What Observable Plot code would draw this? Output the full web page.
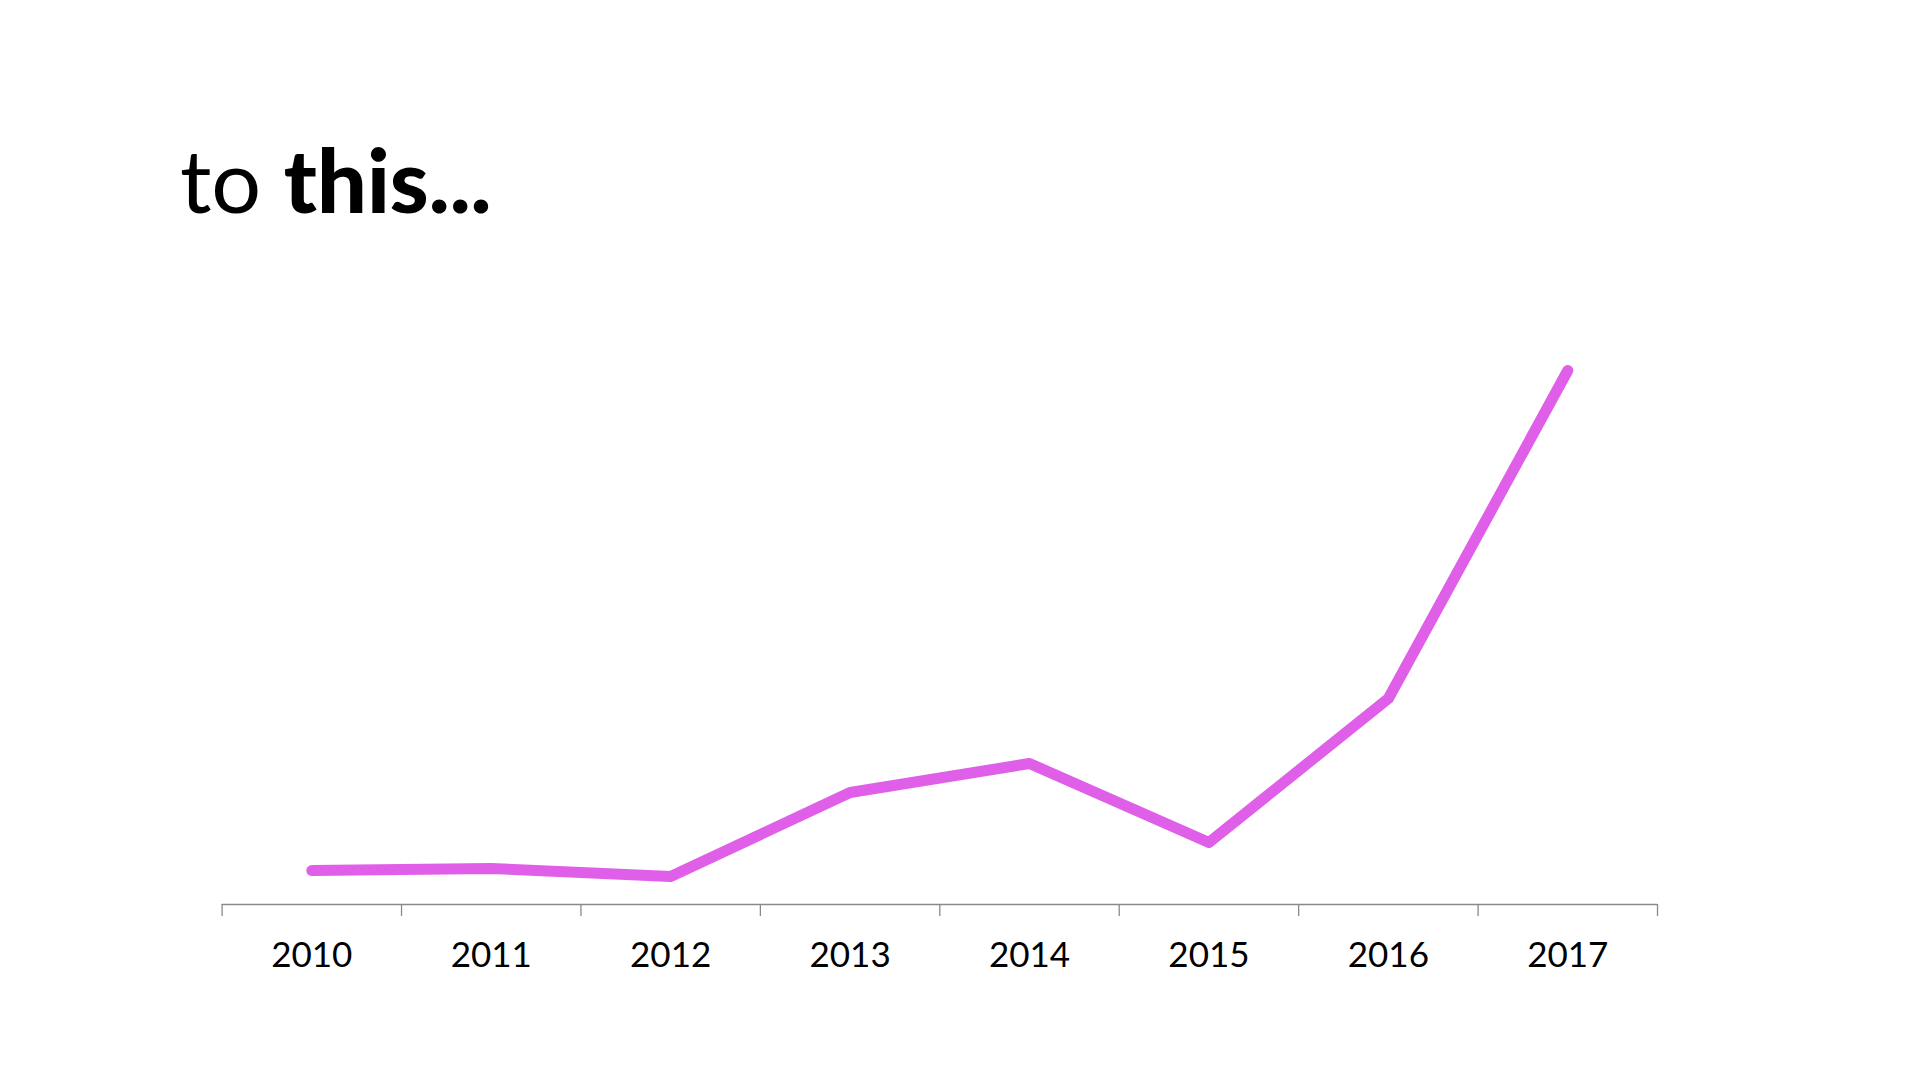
<!DOCTYPE html>
<html>
<head>
<meta charset="utf-8">
<script src="https://cdn.jsdelivr.net/npm/d3@7"></script>
<script src="https://cdn.jsdelivr.net/npm/@observablehq/plot@0.6"></script>
<style>
  html, body { margin: 0; padding: 0; background: #fff; }
  body { width: 1920px; height: 1080px; position: relative; overflow: hidden; font-family: Lato, "Open Sans", sans-serif; }
  #title { position: absolute; left: 180px; top: 135px; font-size: 88px; line-height: 1; color: #000; white-space: nowrap; letter-spacing: 0px; }
  #title .light { font-weight: 400; }
  #title .bold { font-weight: 900; }
  #chart { position: absolute; left: 0; top: 250px; }
</style>
</head>
<body>
<div id="title"><span class="light">to</span> <span class="bold">this...</span></div>
<div id="chart"></div>
<script>
const years = [2010, 2011, 2012, 2013, 2014, 2015, 2016, 2017];
const values = [34, 36, 28, 112, 141, 62, 206, 534];
const yDomain = [0, 600];

const data = years.map((year, i) => ({year, value: values[i]}));
const boundaries = years.map(y => y - 0.5).concat([years[years.length - 1] + 0.5]);

const chart = Plot.plot({
  width: 1920,
  height: 830,
  marginLeft: 221.6,
  marginRight: 263,
  marginTop: 54,
  marginBottom: 176,
  style: { fontFamily: "Lato, 'Open Sans', sans-serif", background: "#fff", color: "#000" },
  x: { type: "linear", domain: [boundaries[0], boundaries[boundaries.length - 1]], label: null },
  y: { domain: yDomain, axis: null, label: null },
  marks: [
    Plot.axisX({ ticks: boundaries, tickSize: 12, tickFormat: () => "", label: null, stroke: "#8a8a8a", strokeWidth: 1.3 }),
    Plot.axisX({ ticks: years, tickSize: 0, tickPadding: 38, tickFormat: d => String(d), label: null, fontSize: 35, fill: "#000" }),
    Plot.ruleY([0], { stroke: "#8a8a8a", strokeWidth: 1.3 }),
    Plot.line(data, { x: "year", y: "value", stroke: "#e05fe8", strokeWidth: 11, strokeLinecap: "round", strokeLinejoin: "round" })
  ]
});
document.getElementById("chart").appendChild(chart);
</script>
</body>
</html>
